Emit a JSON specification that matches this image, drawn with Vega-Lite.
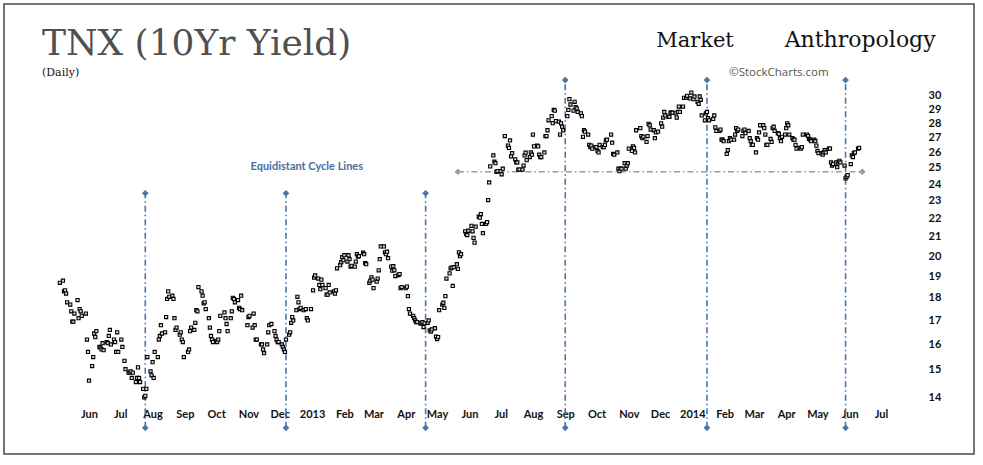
{
"$schema": "https://vega.github.io/schema/vega-lite/v6.json",
"width": 970, "height": 450,
"autosize": {"type": "none"},
"padding": {"left": 4, "top": 4, "right": 9, "bottom": 11},
"background": "#ffffff",
"config": {"view": {"stroke": "#4a4a4a", "strokeWidth": 1.5}},
"title": {"text": "TNX (10Yr Yield)", "subtitle": "(Daily)", "anchor": "start", "frame": "group", "orient": "top", "offset": -75, "dx": 38, "font": "DejaVu Serif", "fontSize": 36, "fontWeight": "normal", "color": "#505050", "subtitleFont": "DejaVu Serif", "subtitleFontSize": 11, "subtitleColor": "#111111", "subtitlePadding": 4},
"datasets": {
"hline": [{"d": "2013-05-21", "d2": "2014-06-13", "v": 24.76}],
"hpts": [{"d": "2013-05-21", "v": 24.76}, {"d": "2014-06-13", "v": 24.76}],
"cycles": [
{"d": "2012-07-25", "v": 12.96, "v2": 23.45},
{"d": "2012-12-07", "v": 12.96, "v2": 23.45},
{"d": "2013-04-20", "v": 12.96, "v2": 23.45},
{"d": "2013-09-01", "v": 12.96, "v2": 31.22},
{"d": "2014-01-15", "v": 12.96, "v2": 31.22},
{"d": "2014-05-28", "v": 12.96, "v2": 31.22}],
"cpts": [
{"d": "2012-07-25", "v": 12.96}, {"d": "2012-07-25", "v": 23.45},
{"d": "2012-12-07", "v": 12.96}, {"d": "2012-12-07", "v": 23.45},
{"d": "2013-04-20", "v": 12.96}, {"d": "2013-04-20", "v": 23.45},
{"d": "2013-09-01", "v": 12.96}, {"d": "2013-09-01", "v": 31.22},
{"d": "2014-01-15", "v": 12.96}, {"d": "2014-01-15", "v": 31.22},
{"d": "2014-05-28", "v": 12.96}, {"d": "2014-05-28", "v": 31.22}],
"note1": [{"d": "2012-12-27", "v": 24.85, "t": "Equidistant Cycle Lines"}],
"note2": [{"d": "2014-01-03T12:00:00Z", "v": 33.96, "t": "Market"}],
"note3": [{"d": "2014-06-11", "v": 33.96, "t": "Anthropology"}],
"note4": [{"d": "2014-03-25", "v": 31.54, "t": "©StockCharts.com"}],
"tnx": [
{"d":"2012-05-04","v":18.7},{"d":"2012-05-07","v":18.8},{"d":"2012-05-08","v":18.3},{"d":"2012-05-09","v":18.35},{"d":"2012-05-10","v":18.2},{"d":"2012-05-11","v":17.8},{"d":"2012-05-14","v":17.7},{"d":"2012-05-15","v":17.4},{"d":"2012-05-16","v":16.95},{"d":"2012-05-17","v":16.95},{"d":"2012-05-18","v":17.3},{"d":"2012-05-21","v":17.9},{"d":"2012-05-22","v":17.1},{"d":"2012-05-23","v":17.5},{"d":"2012-05-24","v":17.4},{"d":"2012-05-25","v":17.2},{"d":"2012-05-29","v":17.3},{"d":"2012-05-30","v":16.2},{"d":"2012-05-31","v":15.7},
{"d":"2012-06-01","v":14.6},{"d":"2012-06-04","v":15.15},{"d":"2012-06-05","v":15.5},{"d":"2012-06-06","v":16.45},{"d":"2012-06-07","v":16.3},{"d":"2012-06-08","v":16.55},{"d":"2012-06-11","v":15.9},{"d":"2012-06-12","v":15.87},{"d":"2012-06-13","v":15.8},{"d":"2012-06-14","v":16.05},{"d":"2012-06-15","v":15.77},{"d":"2012-06-18","v":16.1},{"d":"2012-06-19","v":16.05},{"d":"2012-06-20","v":16.35},{"d":"2012-06-21","v":16.6},{"d":"2012-06-22","v":16.0},{"d":"2012-06-25","v":16.2},{"d":"2012-06-26","v":16.1},{"d":"2012-06-27","v":15.7},{"d":"2012-06-28","v":16.5},{"d":"2012-06-29","v":15.7},
{"d":"2012-07-02","v":16.2},{"d":"2012-07-03","v":15.9},{"d":"2012-07-05","v":15.35},{"d":"2012-07-06","v":15.03},{"d":"2012-07-09","v":14.9},{"d":"2012-07-10","v":14.9},{"d":"2012-07-11","v":14.95},{"d":"2012-07-12","v":14.7},{"d":"2012-07-13","v":14.9},{"d":"2012-07-16","v":14.55},{"d":"2012-07-17","v":14.7},{"d":"2012-07-18","v":15.1},{"d":"2012-07-19","v":14.7},{"d":"2012-07-20","v":14.55},{"d":"2012-07-23","v":14.3},{"d":"2012-07-24","v":14.0},{"d":"2012-07-25","v":14.05},{"d":"2012-07-26","v":14.3},{"d":"2012-07-27","v":15.5},{"d":"2012-07-30","v":14.95},{"d":"2012-07-31","v":14.8},
{"d":"2012-08-01","v":15.3},{"d":"2012-08-02","v":14.7},{"d":"2012-08-03","v":15.7},{"d":"2012-08-06","v":15.5},{"d":"2012-08-07","v":16.2},{"d":"2012-08-08","v":16.35},{"d":"2012-08-09","v":16.8},{"d":"2012-08-10","v":16.45},{"d":"2012-08-13","v":16.5},{"d":"2012-08-14","v":17.15},{"d":"2012-08-15","v":17.95},{"d":"2012-08-16","v":18.3},{"d":"2012-08-17","v":18.05},{"d":"2012-08-20","v":18.1},{"d":"2012-08-21","v":17.95},{"d":"2012-08-22","v":17.1},{"d":"2012-08-23","v":16.6},{"d":"2012-08-24","v":16.7},{"d":"2012-08-27","v":16.4},{"d":"2012-08-28","v":16.5},{"d":"2012-08-29","v":16.2},{"d":"2012-08-30","v":16.1},{"d":"2012-08-31","v":15.5},
{"d":"2012-09-04","v":15.7},{"d":"2012-09-05","v":15.8},{"d":"2012-09-06","v":16.55},{"d":"2012-09-07","v":16.7},{"d":"2012-09-10","v":16.6},{"d":"2012-09-11","v":16.9},{"d":"2012-09-12","v":17.45},{"d":"2012-09-13","v":17.4},{"d":"2012-09-14","v":18.5},{"d":"2012-09-17","v":18.3},{"d":"2012-09-18","v":18.1},{"d":"2012-09-19","v":17.75},{"d":"2012-09-20","v":17.8},{"d":"2012-09-21","v":17.5},{"d":"2012-09-24","v":17.1},{"d":"2012-09-25","v":16.7},{"d":"2012-09-26","v":16.35},{"d":"2012-09-27","v":16.2},{"d":"2012-09-28","v":16.1},
{"d":"2012-10-01","v":16.15},{"d":"2012-10-02","v":16.1},{"d":"2012-10-03","v":16.2},{"d":"2012-10-04","v":16.55},{"d":"2012-10-05","v":17.2},{"d":"2012-10-09","v":17.35},{"d":"2012-10-10","v":17.1},{"d":"2012-10-11","v":16.85},{"d":"2012-10-12","v":16.55},{"d":"2012-10-15","v":17.1},{"d":"2012-10-16","v":17.4},{"d":"2012-10-17","v":18.0},{"d":"2012-10-18","v":17.95},{"d":"2012-10-19","v":17.8},{"d":"2012-10-22","v":17.9},{"d":"2012-10-23","v":17.55},{"d":"2012-10-24","v":17.5},{"d":"2012-10-25","v":18.1},{"d":"2012-10-26","v":17.45},{"d":"2012-10-31","v":16.8},
{"d":"2012-11-01","v":17.15},{"d":"2012-11-02","v":17.2},{"d":"2012-11-05","v":16.7},{"d":"2012-11-06","v":17.3},{"d":"2012-11-07","v":16.8},{"d":"2012-11-08","v":16.2},{"d":"2012-11-09","v":16.2},{"d":"2012-11-13","v":16.0},{"d":"2012-11-14","v":16.0},{"d":"2012-11-15","v":15.8},{"d":"2012-11-16","v":15.65},{"d":"2012-11-19","v":16.0},{"d":"2012-11-20","v":16.5},{"d":"2012-11-21","v":16.8},{"d":"2012-11-23","v":16.85},{"d":"2012-11-26","v":16.55},{"d":"2012-11-27","v":16.35},{"d":"2012-11-28","v":16.2},{"d":"2012-11-29","v":16.1},{"d":"2012-11-30","v":16.1},
{"d":"2012-12-03","v":16.0},{"d":"2012-12-04","v":15.9},{"d":"2012-12-05","v":15.8},{"d":"2012-12-06","v":15.7},{"d":"2012-12-07","v":16.2},{"d":"2012-12-10","v":16.4},{"d":"2012-12-11","v":16.5},{"d":"2012-12-12","v":16.9},{"d":"2012-12-13","v":17.15},{"d":"2012-12-14","v":17.0},{"d":"2012-12-17","v":17.45},{"d":"2012-12-18","v":18.05},{"d":"2012-12-19","v":17.8},{"d":"2012-12-20","v":17.5},{"d":"2012-12-21","v":17.55},{"d":"2012-12-24","v":17.45},{"d":"2012-12-26","v":17.5},{"d":"2012-12-27","v":17.1},{"d":"2012-12-28","v":17.0},{"d":"2012-12-31","v":17.5},
{"d":"2013-01-02","v":18.35},{"d":"2013-01-03","v":18.95},{"d":"2013-01-04","v":19.05},{"d":"2013-01-07","v":18.9},{"d":"2013-01-08","v":18.6},{"d":"2013-01-09","v":18.4},{"d":"2013-01-10","v":18.85},{"d":"2013-01-11","v":18.6},{"d":"2013-01-14","v":18.45},{"d":"2013-01-15","v":18.15},{"d":"2013-01-16","v":18.15},{"d":"2013-01-17","v":18.6},{"d":"2013-01-18","v":18.25},{"d":"2013-01-22","v":18.3},{"d":"2013-01-23","v":18.2},{"d":"2013-01-24","v":18.35},{"d":"2013-01-25","v":19.4},{"d":"2013-01-28","v":19.55},{"d":"2013-01-29","v":19.7},{"d":"2013-01-30","v":19.95},{"d":"2013-01-31","v":19.8},
{"d":"2013-02-01","v":20.05},{"d":"2013-02-04","v":19.73},{"d":"2013-02-05","v":20.05},{"d":"2013-02-06","v":19.85},{"d":"2013-02-07","v":19.48},{"d":"2013-02-08","v":19.52},{"d":"2013-02-11","v":19.48},{"d":"2013-02-12","v":19.73},{"d":"2013-02-13","v":20.1},{"d":"2013-02-14","v":19.98},{"d":"2013-02-15","v":20.0},{"d":"2013-02-19","v":20.18},{"d":"2013-02-20","v":20.1},{"d":"2013-02-21","v":19.65},{"d":"2013-02-22","v":19.6},{"d":"2013-02-25","v":18.7},{"d":"2013-02-26","v":18.8},{"d":"2013-02-27","v":18.96},{"d":"2013-02-28","v":18.85},
{"d":"2013-03-01","v":18.45},{"d":"2013-03-04","v":18.75},{"d":"2013-03-05","v":18.9},{"d":"2013-03-06","v":19.3},{"d":"2013-03-07","v":19.85},{"d":"2013-03-08","v":20.5},{"d":"2013-03-11","v":20.5},{"d":"2013-03-12","v":20.2},{"d":"2013-03-13","v":20.1},{"d":"2013-03-14","v":20.23},{"d":"2013-03-15","v":19.9},{"d":"2013-03-18","v":19.48},{"d":"2013-03-19","v":19.28},{"d":"2013-03-20","v":19.5},{"d":"2013-03-21","v":19.3},{"d":"2013-03-22","v":19.02},{"d":"2013-03-25","v":19.07},{"d":"2013-03-26","v":19.12},{"d":"2013-03-27","v":18.45},{"d":"2013-03-28","v":18.5},
{"d":"2013-04-01","v":18.45},{"d":"2013-04-02","v":18.52},{"d":"2013-04-03","v":18.08},{"d":"2013-04-04","v":17.5},{"d":"2013-04-05","v":17.3},{"d":"2013-04-08","v":17.2},{"d":"2013-04-09","v":17.1},{"d":"2013-04-10","v":17.0},{"d":"2013-04-11","v":16.93},{"d":"2013-04-12","v":16.93},{"d":"2013-04-15","v":16.88},{"d":"2013-04-16","v":16.88},{"d":"2013-04-17","v":16.93},{"d":"2013-04-18","v":16.72},{"d":"2013-04-19","v":16.88},{"d":"2013-04-22","v":16.9},{"d":"2013-04-23","v":17.0},{"d":"2013-04-24","v":16.58},{"d":"2013-04-25","v":16.53},{"d":"2013-04-26","v":16.62},{"d":"2013-04-29","v":16.67},{"d":"2013-04-30","v":16.32},
{"d":"2013-05-01","v":16.22},{"d":"2013-05-02","v":16.3},{"d":"2013-05-03","v":17.45},{"d":"2013-05-06","v":17.7},{"d":"2013-05-07","v":17.78},{"d":"2013-05-08","v":17.55},{"d":"2013-05-09","v":18.08},{"d":"2013-05-10","v":18.9},{"d":"2013-05-13","v":19.15},{"d":"2013-05-14","v":19.4},{"d":"2013-05-15","v":19.43},{"d":"2013-05-16","v":18.55},{"d":"2013-05-17","v":19.45},{"d":"2013-05-20","v":19.6},{"d":"2013-05-21","v":19.37},{"d":"2013-05-22","v":20.2},{"d":"2013-05-23","v":20.0},{"d":"2013-05-24","v":20.1},{"d":"2013-05-28","v":21.3},{"d":"2013-05-29","v":21.15},{"d":"2013-05-30","v":21.1},{"d":"2013-05-31","v":21.33},
{"d":"2013-06-03","v":21.6},{"d":"2013-06-04","v":21.3},{"d":"2013-06-05","v":20.95},{"d":"2013-06-06","v":20.7},{"d":"2013-06-07","v":21.55},{"d":"2013-06-10","v":22.1},{"d":"2013-06-11","v":22.05},{"d":"2013-06-12","v":22.25},{"d":"2013-06-13","v":21.7},{"d":"2013-06-14","v":21.2},{"d":"2013-06-17","v":21.7},{"d":"2013-06-18","v":21.8},{"d":"2013-06-19","v":23.05},{"d":"2013-06-20","v":24.1},{"d":"2013-06-21","v":25.1},{"d":"2013-06-24","v":25.8},{"d":"2013-06-25","v":25.4},{"d":"2013-06-26","v":25.3},{"d":"2013-06-27","v":24.75},{"d":"2013-06-28","v":24.8},
{"d":"2013-07-01","v":24.8},{"d":"2013-07-02","v":24.6},{"d":"2013-07-03","v":24.95},{"d":"2013-07-05","v":27.1},{"d":"2013-07-08","v":26.45},{"d":"2013-07-09","v":26.3},{"d":"2013-07-10","v":26.8},{"d":"2013-07-11","v":25.75},{"d":"2013-07-12","v":25.95},{"d":"2013-07-15","v":25.55},{"d":"2013-07-16","v":25.35},{"d":"2013-07-17","v":25.35},{"d":"2013-07-18","v":24.9},{"d":"2013-07-19","v":24.9},{"d":"2013-07-22","v":24.9},{"d":"2013-07-23","v":25.15},{"d":"2013-07-24","v":25.8},{"d":"2013-07-25","v":25.98},{"d":"2013-07-26","v":25.5},{"d":"2013-07-29","v":25.7},{"d":"2013-07-30","v":26.0},{"d":"2013-07-31","v":25.85},
{"d":"2013-08-01","v":27.2},{"d":"2013-08-02","v":26.4},{"d":"2013-08-05","v":26.45},{"d":"2013-08-06","v":26.4},{"d":"2013-08-07","v":25.85},{"d":"2013-08-08","v":25.7},{"d":"2013-08-09","v":25.7},{"d":"2013-08-12","v":26.0},{"d":"2013-08-13","v":27.1},{"d":"2013-08-14","v":27.1},{"d":"2013-08-15","v":27.5},{"d":"2013-08-16","v":28.2},{"d":"2013-08-19","v":28.5},{"d":"2013-08-20","v":28.0},{"d":"2013-08-21","v":28.95},{"d":"2013-08-22","v":28.9},{"d":"2013-08-23","v":28.15},{"d":"2013-08-26","v":28.1},{"d":"2013-08-27","v":27.2},{"d":"2013-08-28","v":27.98},{"d":"2013-08-29","v":27.75},{"d":"2013-08-30","v":27.5},
{"d":"2013-09-03","v":28.5},{"d":"2013-09-04","v":28.95},{"d":"2013-09-05","v":29.75},{"d":"2013-09-06","v":29.35},{"d":"2013-09-09","v":28.9},{"d":"2013-09-10","v":29.55},{"d":"2013-09-11","v":29.15},{"d":"2013-09-12","v":29.05},{"d":"2013-09-13","v":28.8},{"d":"2013-09-16","v":28.7},{"d":"2013-09-17","v":28.5},{"d":"2013-09-18","v":27.05},{"d":"2013-09-19","v":27.5},{"d":"2013-09-20","v":27.4},{"d":"2013-09-23","v":27.2},{"d":"2013-09-24","v":26.5},{"d":"2013-09-25","v":26.35},{"d":"2013-09-26","v":26.45},{"d":"2013-09-27","v":26.25},{"d":"2013-09-30","v":26.35},
{"d":"2013-10-01","v":26.35},{"d":"2013-10-02","v":26.1},{"d":"2013-10-03","v":26.0},{"d":"2013-10-04","v":26.5},{"d":"2013-10-07","v":26.35},{"d":"2013-10-08","v":26.35},{"d":"2013-10-09","v":26.5},{"d":"2013-10-10","v":26.8},{"d":"2013-10-11","v":26.85},{"d":"2013-10-15","v":27.2},{"d":"2013-10-16","v":26.65},{"d":"2013-10-17","v":25.9},{"d":"2013-10-18","v":25.85},{"d":"2013-10-21","v":26.0},{"d":"2013-10-22","v":24.95},{"d":"2013-10-23","v":24.8},{"d":"2013-10-24","v":24.95},{"d":"2013-10-25","v":24.95},{"d":"2013-10-28","v":25.3},{"d":"2013-10-29","v":24.95},{"d":"2013-10-30","v":25.15},{"d":"2013-10-31","v":25.3},
{"d":"2013-11-01","v":26.25},{"d":"2013-11-04","v":26.1},{"d":"2013-11-05","v":26.4},{"d":"2013-11-06","v":26.3},{"d":"2013-11-07","v":26.0},{"d":"2013-11-08","v":27.5},{"d":"2013-11-12","v":27.65},{"d":"2013-11-13","v":27.1},{"d":"2013-11-14","v":26.95},{"d":"2013-11-15","v":27.05},{"d":"2013-11-18","v":26.7},{"d":"2013-11-19","v":27.1},{"d":"2013-11-20","v":27.95},{"d":"2013-11-21","v":27.85},{"d":"2013-11-22","v":27.55},{"d":"2013-11-25","v":27.5},{"d":"2013-11-26","v":26.95},{"d":"2013-11-27","v":27.35},{"d":"2013-11-29","v":27.4},
{"d":"2013-12-02","v":27.98},{"d":"2013-12-03","v":27.75},{"d":"2013-12-04","v":28.4},{"d":"2013-12-05","v":28.8},{"d":"2013-12-06","v":28.55},{"d":"2013-12-09","v":28.45},{"d":"2013-12-10","v":28.45},{"d":"2013-12-11","v":28.75},{"d":"2013-12-12","v":28.75},{"d":"2013-12-13","v":28.75},{"d":"2013-12-16","v":28.7},{"d":"2013-12-17","v":28.4},{"d":"2013-12-18","v":28.8},{"d":"2013-12-19","v":29.2},{"d":"2013-12-20","v":28.8},{"d":"2013-12-23","v":29.2},{"d":"2013-12-24","v":29.85},{"d":"2013-12-26","v":29.85},{"d":"2013-12-27","v":30.0},{"d":"2013-12-30","v":29.8},{"d":"2013-12-31","v":30.25},
{"d":"2014-01-02","v":29.75},{"d":"2014-01-03","v":29.95},{"d":"2014-01-06","v":29.55},{"d":"2014-01-07","v":29.4},{"d":"2014-01-08","v":29.95},{"d":"2014-01-09","v":29.7},{"d":"2014-01-10","v":28.55},{"d":"2014-01-13","v":28.2},{"d":"2014-01-14","v":28.7},{"d":"2014-01-15","v":28.8},{"d":"2014-01-16","v":28.35},{"d":"2014-01-17","v":28.2},{"d":"2014-01-21","v":28.3},{"d":"2014-01-22","v":28.55},{"d":"2014-01-23","v":27.7},{"d":"2014-01-24","v":27.45},{"d":"2014-01-27","v":27.45},{"d":"2014-01-28","v":27.55},{"d":"2014-01-29","v":26.85},{"d":"2014-01-30","v":26.85},{"d":"2014-01-31","v":26.75},
{"d":"2014-02-03","v":25.9},{"d":"2014-02-04","v":26.15},{"d":"2014-02-05","v":26.75},{"d":"2014-02-06","v":26.95},{"d":"2014-02-07","v":26.85},{"d":"2014-02-10","v":26.85},{"d":"2014-02-11","v":27.2},{"d":"2014-02-12","v":27.65},{"d":"2014-02-13","v":27.45},{"d":"2014-02-14","v":27.55},{"d":"2014-02-18","v":27.1},{"d":"2014-02-19","v":27.45},{"d":"2014-02-20","v":27.55},{"d":"2014-02-21","v":27.3},{"d":"2014-02-24","v":27.45},{"d":"2014-02-25","v":26.95},{"d":"2014-02-26","v":26.75},{"d":"2014-02-27","v":26.5},{"d":"2014-02-28","v":26.5},
{"d":"2014-03-03","v":26.0},{"d":"2014-03-04","v":26.95},{"d":"2014-03-05","v":26.85},{"d":"2014-03-06","v":27.35},{"d":"2014-03-07","v":27.85},{"d":"2014-03-10","v":27.85},{"d":"2014-03-11","v":27.65},{"d":"2014-03-12","v":27.2},{"d":"2014-03-13","v":26.5},{"d":"2014-03-14","v":26.5},{"d":"2014-03-17","v":26.9},{"d":"2014-03-18","v":26.7},{"d":"2014-03-19","v":27.65},{"d":"2014-03-20","v":27.75},{"d":"2014-03-21","v":27.45},{"d":"2014-03-24","v":27.3},{"d":"2014-03-25","v":27.25},{"d":"2014-03-26","v":26.95},{"d":"2014-03-27","v":26.75},{"d":"2014-03-28","v":27.05},{"d":"2014-03-31","v":27.2},
{"d":"2014-04-01","v":27.65},{"d":"2014-04-02","v":27.98},{"d":"2014-04-03","v":27.85},{"d":"2014-04-04","v":27.2},{"d":"2014-04-07","v":26.95},{"d":"2014-04-08","v":26.85},{"d":"2014-04-09","v":26.85},{"d":"2014-04-10","v":26.5},{"d":"2014-04-11","v":26.25},{"d":"2014-04-14","v":26.3},{"d":"2014-04-15","v":26.25},{"d":"2014-04-16","v":26.35},{"d":"2014-04-17","v":27.2},{"d":"2014-04-21","v":27.2},{"d":"2014-04-22","v":27.1},{"d":"2014-04-23","v":26.9},{"d":"2014-04-24","v":26.85},{"d":"2014-04-25","v":26.75},{"d":"2014-04-28","v":26.85},{"d":"2014-04-29","v":26.75},{"d":"2014-04-30","v":26.45},
{"d":"2014-05-01","v":26.1},{"d":"2014-05-02","v":25.95},{"d":"2014-05-05","v":25.95},{"d":"2014-05-06","v":25.85},{"d":"2014-05-07","v":26.0},{"d":"2014-05-08","v":26.15},{"d":"2014-05-09","v":26.0},{"d":"2014-05-12","v":26.25},{"d":"2014-05-13","v":26.25},{"d":"2014-05-14","v":25.35},{"d":"2014-05-15","v":25.15},{"d":"2014-05-16","v":25.25},{"d":"2014-05-19","v":25.35},{"d":"2014-05-20","v":25.05},{"d":"2014-05-21","v":25.35},{"d":"2014-05-22","v":25.45},{"d":"2014-05-23","v":25.35},{"d":"2014-05-27","v":25.15},{"d":"2014-05-28","v":24.35},{"d":"2014-05-29","v":24.45},{"d":"2014-05-30","v":24.55},
{"d":"2014-06-02","v":25.25},{"d":"2014-06-03","v":25.8},{"d":"2014-06-04","v":25.7},{"d":"2014-06-05","v":25.95},{"d":"2014-06-06","v":26.0},{"d":"2014-06-09","v":26.25},{"d":"2014-06-10","v":26.3}
]
},
"encoding": {
"x": {"field": "d", "type": "temporal",
 "scale": {"type": "utc", "domain": [{"year": 2012, "month": 3, "date": 11, "hours": 10, "utc": true}, {"year": 2014, "month": 9, "date": 28, "hours": 6, "utc": true}]},
 "axis": {"orient": "bottom", "offset": -46, "title": null, "grid": false, "ticks": false, "domain": false, "labelPadding": 0, "labelOverlap": false, "labelFlush": false,
  "labelFont": "Lato", "labelFontWeight": "bold", "labelFontSize": 11, "labelColor": "#111111",
  "labelExpr": "utcmonth(datum.value) == 0 ? utcFormat(datum.value, '%Y') : utcFormat(datum.value, '%b')",
  "values": [
   {"year": 2012, "month": 6, "date": 1, "utc": true}, {"year": 2012, "month": 7, "date": 1, "utc": true}, {"year": 2012, "month": 8, "date": 1, "utc": true}, {"year": 2012, "month": 9, "date": 1, "utc": true}, {"year": 2012, "month": 10, "date": 1, "utc": true}, {"year": 2012, "month": 11, "date": 1, "utc": true}, {"year": 2012, "month": 12, "date": 1, "utc": true},
   {"year": 2013, "month": 1, "date": 1, "utc": true}, {"year": 2013, "month": 2, "date": 1, "utc": true}, {"year": 2013, "month": 3, "date": 1, "utc": true}, {"year": 2013, "month": 4, "date": 1, "utc": true}, {"year": 2013, "month": 5, "date": 1, "utc": true}, {"year": 2013, "month": 6, "date": 1, "utc": true}, {"year": 2013, "month": 7, "date": 1, "utc": true}, {"year": 2013, "month": 8, "date": 1, "utc": true}, {"year": 2013, "month": 9, "date": 1, "utc": true}, {"year": 2013, "month": 10, "date": 1, "utc": true}, {"year": 2013, "month": 11, "date": 1, "utc": true}, {"year": 2013, "month": 12, "date": 1, "utc": true},
   {"year": 2014, "month": 1, "date": 1, "utc": true}, {"year": 2014, "month": 2, "date": 1, "utc": true}, {"year": 2014, "month": 3, "date": 1, "utc": true}, {"year": 2014, "month": 4, "date": 1, "utc": true}, {"year": 2014, "month": 5, "date": 1, "utc": true}, {"year": 2014, "month": 6, "date": 1, "utc": true}, {"year": 2014, "month": 7, "date": 1, "utc": true}]}},
"y": {"field": "v", "type": "quantitative",
 "scale": {"type": "log", "domain": [12.13, 37.84], "nice": false},
 "axis": {"orient": "right", "offset": -46, "title": null, "grid": false, "ticks": false, "domain": false, "labelPadding": 0, "labelOverlap": false, "labelFlush": false, "labelAlign": "left", "labelBaseline": "middle",
  "labelFont": "Lato", "labelFontWeight": "bold", "labelFontSize": 11, "labelColor": "#111111", "format": "d",
  "values": [14, 15, 16, 17, 18, 19, 20, 21, 22, 23, 24, 25, 26, 27, 28, 29, 30]}}
},
"layer": [
{"data": {"name": "hline"}, "mark": {"type": "rule", "color": "#9b9b9b", "strokeWidth": 1.6, "strokeDash": [6, 3, 1.5, 3]}, "encoding": {"x2": {"field": "d2"}}},
{"data": {"name": "hpts"}, "mark": {"type": "point", "shape": "diamond", "filled": true, "color": "#9b9b9b", "size": 45, "opacity": 1}},
{"data": {"name": "cycles"}, "mark": {"type": "rule", "color": "#4a76a8", "strokeWidth": 1.6, "strokeDash": [6, 3, 1.5, 3]}, "encoding": {"y2": {"field": "v2"}}},
{"data": {"name": "cpts"}, "mark": {"type": "point", "shape": "diamond", "filled": true, "color": "#4a76a8", "size": 45, "opacity": 1}},
{"data": {"name": "tnx"}, "mark": {"type": "point", "shape": "square", "filled": true, "fill": "#d9d9d9", "stroke": "#000000", "strokeWidth": 1.1, "size": 10, "opacity": 1}},
{"data": {"name": "note1"}, "mark": {"type": "text", "font": "Lato", "fontWeight": "bold", "fontSize": 11, "color": "#4a6b9c", "align": "center", "baseline": "alphabetic"}, "encoding": {"text": {"field": "t"}}},
{"data": {"name": "note2"}, "mark": {"type": "text", "font": "DejaVu Serif", "fontSize": 21, "color": "#111111", "align": "center", "baseline": "alphabetic"}, "encoding": {"text": {"field": "t"}}},
{"data": {"name": "note3"}, "mark": {"type": "text", "font": "DejaVu Serif", "fontSize": 22, "color": "#111111", "align": "center", "baseline": "alphabetic"}, "encoding": {"text": {"field": "t"}}},
{"data": {"name": "note4"}, "mark": {"type": "text", "font": "Open Sans", "fontSize": 11.5, "color": "#555555", "align": "center", "baseline": "alphabetic"}, "encoding": {"text": {"field": "t"}}}
]
}
